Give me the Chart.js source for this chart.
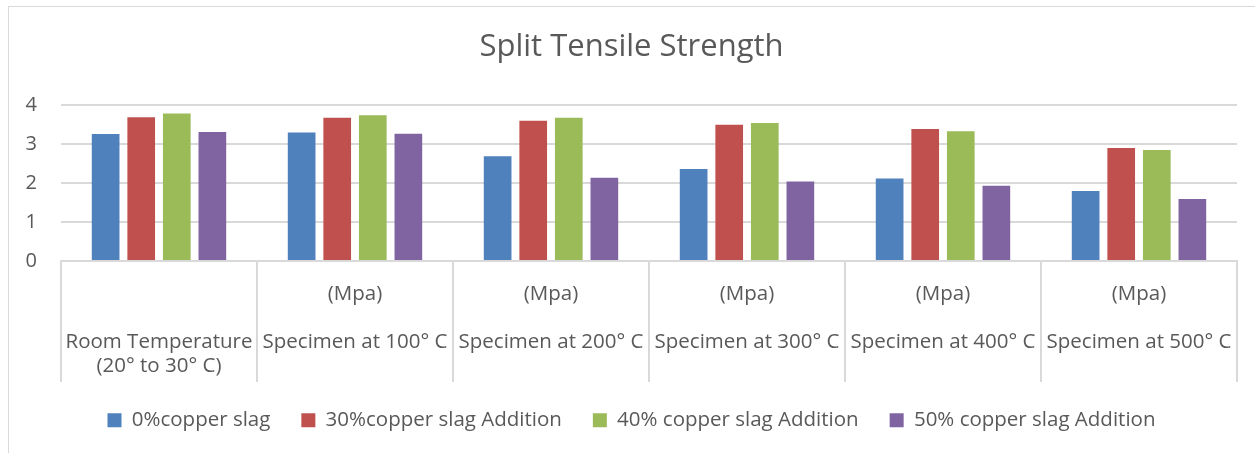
<!DOCTYPE html>
<html>
<head>
<meta charset="utf-8">
<script src="https://cdn.jsdelivr.net/npm/chart.js@4/dist/chart.umd.min.js"></script>
<style>
  html, body { margin: 0; padding: 0; background: #fff; overflow: hidden; }
  .frame { position: absolute; left: 8px; top: 6px; width: 1400px; height: 600px; border: 1px solid #d9d9d9; }
  .wrap { position: absolute; left: 0; top: 0; width: 1255px; height: 453px; }
</style>
</head>
<body>
<div class="frame"></div>
<div class="wrap"><canvas id="chart"></canvas></div>
<script>
// data
const categories = [
  ['', '', 'Room Temperature', '(20° to 30° C)'],
  ['(Mpa)', '', 'Specimen at 100° C'],
  ['(Mpa)', '', 'Specimen at 200° C'],
  ['(Mpa)', '', 'Specimen at 300° C'],
  ['(Mpa)', '', 'Specimen at 400° C'],
  ['(Mpa)', '', 'Specimen at 500° C']
];
const seriesNames = ['0%copper slag', '30%copper slag Addition', '40% copper slag Addition', '50% copper slag Addition'];
const slag0 = [3.26, 3.30, 2.69, 2.36, 2.12, 1.80];
const slag30 = [3.69, 3.68, 3.60, 3.50, 3.39, 2.90];
const slag40 = [3.79, 3.74, 3.68, 3.54, 3.33, 2.85];
const slag50 = [3.31, 3.27, 2.14, 2.04, 1.93, 1.59];
const yTicks = [0, 1, 2, 3, 4];

const colors = ['#4F81BD', '#C0504D', '#9BBB59', '#8064A2'];
const textColor = '#595959';
const gridColor = '#d9d9d9';
const fontFamily = '"Open Sans", Lato, sans-serif';

const datasets = [slag0, slag30, slag40, slag50].map((vals, i) => ({
  label: seriesNames[i],
  data: vals,
  backgroundColor: colors[i],
  borderWidth: 0,
  categoryPercentage: 0.726,
  barPercentage: 0.778
}));

new Chart(document.getElementById('chart'), {
  type: 'bar',
  data: { labels: categories, datasets },
  options: {
    responsive: true,
    maintainAspectRatio: false,
    animation: false,
    layout: { padding: { left: 26, right: 18, top: 0, bottom: 12.5 } },
    plugins: {
      title: {
        display: true,
        text: 'Split Tensile Strength',
        color: textColor,
        font: { family: fontFamily, size: 31, weight: 'normal' },
        padding: { top: 29, bottom: 39 }
      },
      legend: {
        position: 'bottom',
        labels: {
          color: textColor,
          font: { family: fontFamily, size: 20.5 },
          boxWidth: 14,
          boxHeight: 14,
          padding: 31
        }
      },
      tooltip: { enabled: false }
    },
    scales: {
      x: {
        grid: {
          offset: true,
          drawOnChartArea: false,
          tickLength: 121,
          color: gridColor,
          lineWidth: 2
        },
        border: { color: gridColor, width: 2 },
        ticks: {
          color: textColor,
          font: { family: fontFamily, size: 20.5, lineHeight: '24px' },
          padding: -100,
          maxRotation: 0,
          autoSkip: false
        },
        afterFit: s => { s.height = 118; }
      },
      y: {
        min: 0,
        max: 4,
        afterBuildTicks: s => { s.ticks = yTicks.map(v => ({ value: v })); },
        grid: { color: gridColor, lineWidth: 2, drawTicks: false },
        border: { display: false },
        ticks: {
          color: textColor,
          font: { family: fontFamily, size: 20 },
          padding: 24
        },
        afterFit: s => { s.width = 35; }
      }
    }
  }
});
</script>
</body>
</html>
